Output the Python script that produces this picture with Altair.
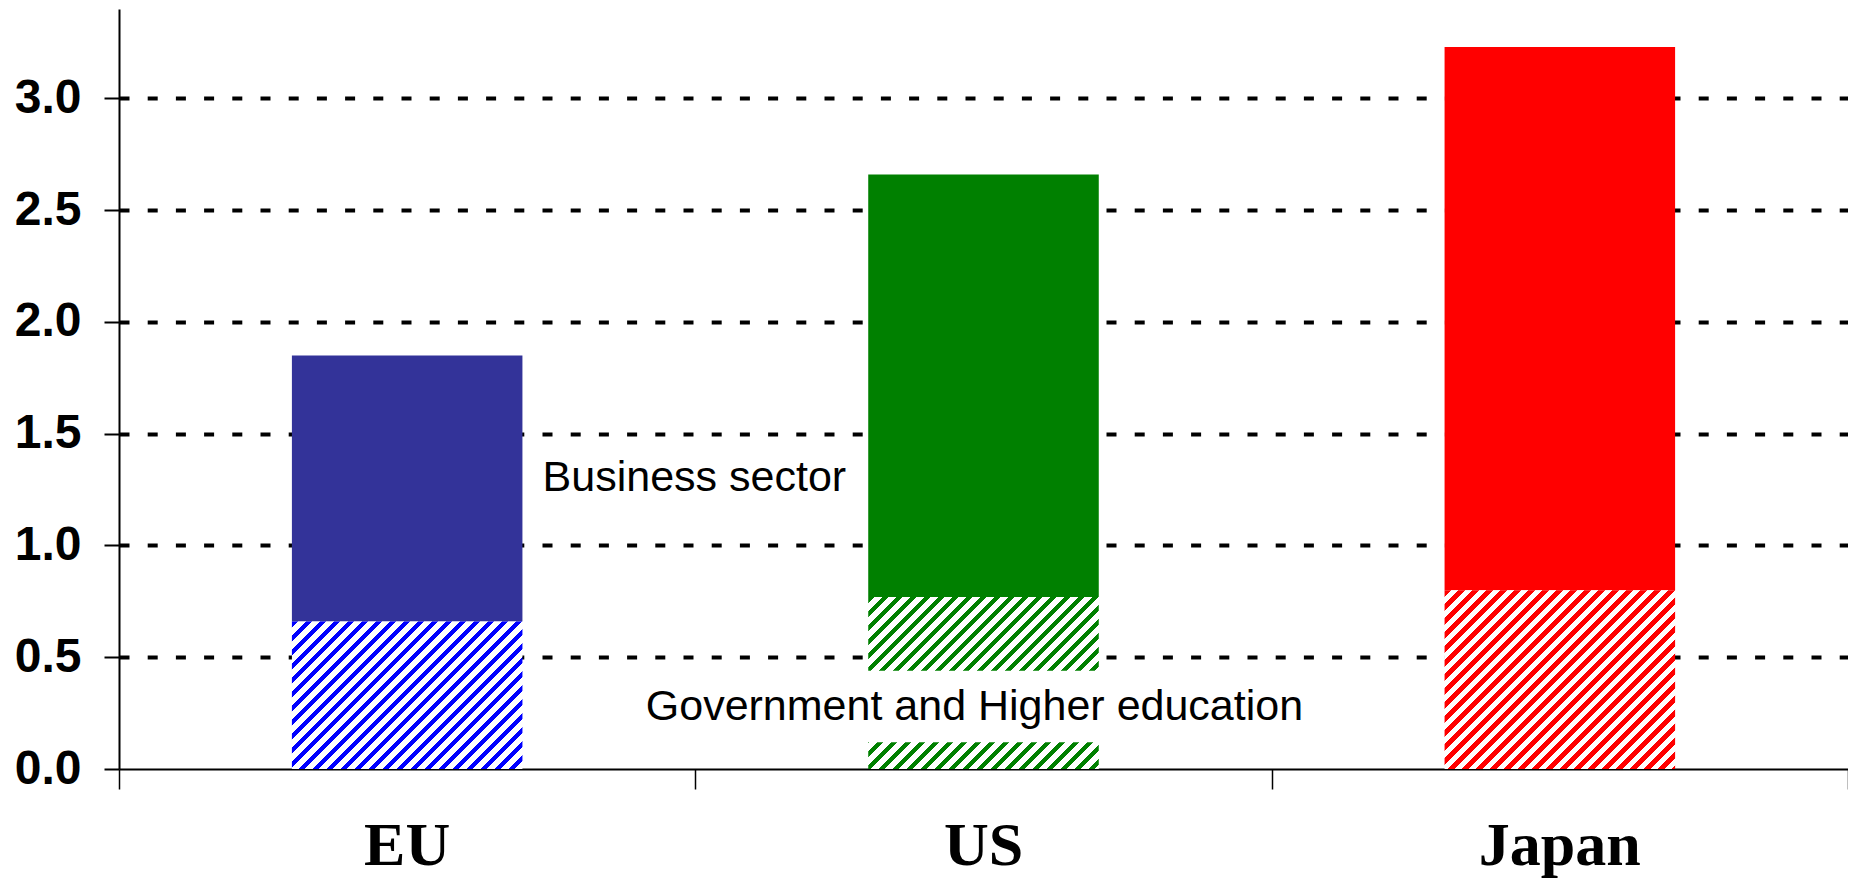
import altair as alt
import pandas as pd

# ---- data ----
countries = ["EU", "US", "Japan"]
business_sector = [1.19, 1.89, 2.43]      # upper, solid part of each bar
gov_higher_edu = [0.66, 0.77, 0.80]       # lower, hatched part of each bar
solid_colors = ["#333399", "#008000", "#FF0000"]
hatch_colors = ["#0000FF", "#008000", "#FF0000"]
y_ticks = [0.0, 0.5, 1.0, 1.5, 2.0, 2.5, 3.0]
x_ticks = [0, 1, 2, 3]
annotations = ["Business sector", "Government and Higher education"]
annotation_x = [0.735, 0.914]
annotation_y = [1.242, 0.221]
# white background box of the lower annotation
note_box_x = [0.905, 2.05]
note_box_y = [0.12, 0.44]

# ---- layout / style ----
W, H = 1729, 760
YMAX = 3.4
STEP = W / 3
BAR_FRAC = 0.4
PX_PER_UNIT = H / YMAX
LO = (1 - BAR_FRAC) / 2
HI = LO + BAR_FRAC

xs = alt.Scale(domain=[0, 3], nice=False, zero=False)
ys = alt.Scale(domain=[0, YMAX], nice=False)

x_axis = alt.Axis(values=x_ticks, labels=False, title=None, grid=False,
                  domainColor="black", domainWidth=2, tickColor="black",
                  tickWidth=1.5, tickSize=20)
y_axis = alt.Axis(values=y_ticks, format=".1f", title=None,
                  domainColor="black", domainWidth=2, tickColor="black",
                  tickWidth=2, tickSize=15, labelFont="Liberation Sans",
                  labelFontWeight="bold", labelFontSize=48, labelColor="black",
                  labelPadding=23, grid=True, gridColor="black",
                  gridDash=[10, 18.2], gridWidth=4,
                  gridOpacity={"condition": {"test": "datum.value === 0", "value": 0}, "value": 1})


def hatch_gradient(color, w, h, period=14.0, frac=0.45):
    """Diagonal '/' stripes built from a hard-stop linear gradient."""
    total = w + h
    P = period / total
    lam = (w + h) / (w * w + h * h)
    stops = []
    k = 0
    while k * P < 1:
        a = k * P
        b = min(a + frac * P, 1.0)
        c = min(a + P, 1.0)
        stops += [(a, color), (b, color), (b, "#FFFFFF"), (c, "#FFFFFF")]
        k += 1
    return alt.LinearGradient(
        gradient="linear", x1=0, y1=0, x2=lam * w, y2=lam * h,
        stops=[alt.GradientStop(offset=o, color=col) for o, col in stops])


df = pd.DataFrame({"country": countries, "pos": list(range(len(countries))),
                   "business": business_sector, "gov": gov_higher_edu,
                   "color": solid_colors})

solid = alt.Chart(df).transform_calculate(
    x0=f"datum.pos + {LO}", x1=f"datum.pos + {HI}",
    top="datum.gov + datum.business"
).mark_rect().encode(
    x=alt.X("x0:Q", scale=xs, axis=x_axis), x2="x1:Q",
    y=alt.Y("gov:Q", scale=ys, axis=y_axis), y2="top:Q",
    fill=alt.Fill("color:N", scale=None, legend=None))

hatched = []
for i, c in enumerate(countries):
    w = BAR_FRAC * STEP
    h = gov_higher_edu[i] * PX_PER_UNIT
    grad = hatch_gradient(hatch_colors[i], w, h)
    d = pd.DataFrame({"pos": [i], "gov": [gov_higher_edu[i]]})
    hatched.append(
        alt.Chart(d).transform_calculate(
            x0=f"datum.pos + {LO}", x1=f"datum.pos + {HI}", base="0"
        ).mark_rect(fill=grad).encode(
            x=alt.X("x0:Q", scale=xs, axis=x_axis), x2="x1:Q",
            y=alt.Y("base:Q", scale=ys, axis=y_axis), y2="gov:Q"))

box_df = pd.DataFrame({"x0": [note_box_x[0]], "x1": [note_box_x[1]],
                       "y0": [note_box_y[0]], "y1": [note_box_y[1]]})
box = alt.Chart(box_df).mark_rect(fill="white").encode(
    x=alt.X("x0:Q", scale=xs, axis=x_axis), x2="x1:Q",
    y=alt.Y("y0:Q", scale=ys, axis=y_axis), y2="y1:Q")

notes_df = pd.DataFrame({"text": annotations, "x": annotation_x, "y": annotation_y})
notes = alt.Chart(notes_df).mark_text(
    align="left", baseline="alphabetic", font="Liberation Sans",
    fontSize=43, color="black"
).encode(
    x=alt.X("x:Q", scale=xs, axis=x_axis),
    y=alt.Y("y:Q", scale=ys, axis=y_axis),
    text="text:N")

cat_labels = alt.Chart(df).transform_calculate(
    xc="datum.pos + 0.5"
).mark_text(
    align="center", baseline="alphabetic", font="Liberation Serif",
    fontWeight="bold", fontSize=62, color="black"
).encode(
    x=alt.X("xc:Q", scale=xs, axis=x_axis),
    y=alt.value(856),
    text="country:N")

chart = alt.layer(solid, *hatched, box, notes, cat_labels).properties(
    width=W, height=H,
    autosize=alt.AutoSizeParams(type="none"),
    padding={"left": 111, "top": 1, "right": 0, "bottom": 114},
    background="white"
).configure_view(stroke=None)

chart.save("out.html", embed_options={"renderer": "svg", "actions": False})
